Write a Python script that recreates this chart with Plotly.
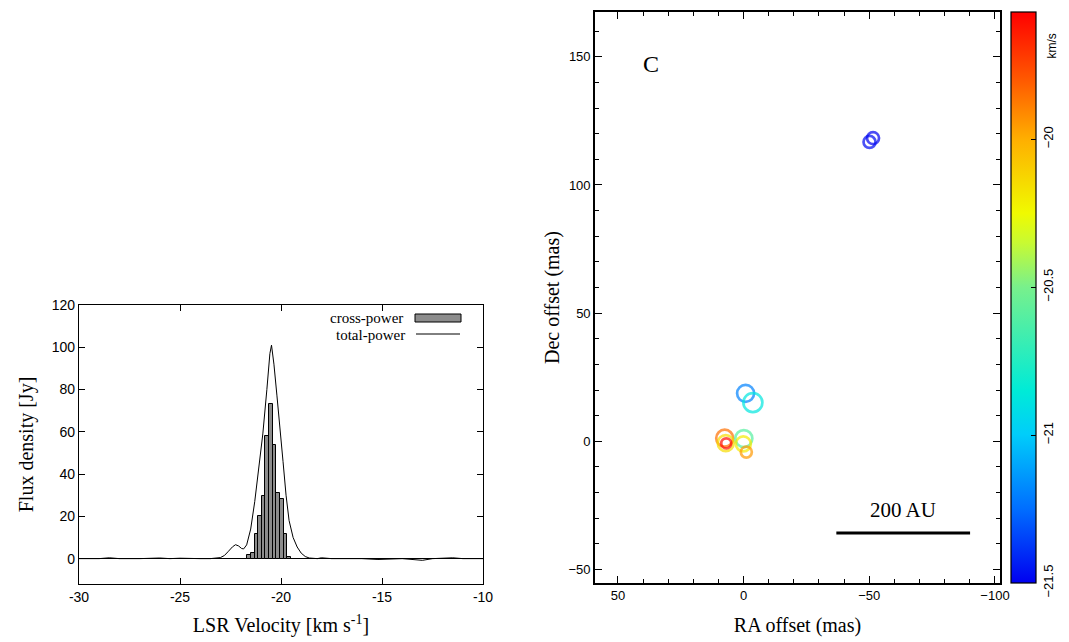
import plotly.graph_objects as go

W, H = 1069, 642

# ---------------- Left panel data: spectrum ----------------
cross_vel = [-21.58, -21.40, -21.22, -21.04, -20.86, -20.68, -20.50, -20.32, -20.14, -19.96, -19.78, -19.60]
cross_flux = [1.7, 2.7, 11.5, 20.2, 29.7, 58.1, 73.0, 54.0, 31.0, 28.3, 11.7, 0.6]

total_vel = [-30, -29, -28.5, -28, -27, -26, -25.5, -25, -24, -23.5, -23, -22.8, -22.6, -22.4,
             -22.25, -22.1, -21.95, -21.85, -21.7, -21.5, -21.3, -21.1, -20.9, -20.7, -20.55,
             -20.47, -20.35, -20.2, -20.05, -19.9, -19.75, -19.6, -19.4, -19.2, -19.0, -18.8,
             -18.6, -18.2, -18, -17.5, -16, -15.2, -14, -13, -12.5, -11.5, -11, -10]
total_flux = [0, 0, 0.4, 0, 0, 0.3, 0, 0.2, 0, 0, 0.5, 1.5, 3.5, 5.6,
              6.6, 6.0, 4.8, 4.6, 6.5, 14, 27, 42, 59, 80, 97,
              101, 92, 77, 63, 46, 30, 18, 10, 5.5, 2.6, 1.0,
              0.3, 0, 0.4, 0, 0, -0.4, 0, -0.8, 0, 0.4, 0, 0]

left_xticks = [-30, -25, -20, -15, -10]
left_xticklabels = ["-30", "-25", "-20", "-15", "-10"]
left_yticks = [0, 20, 40, 60, 80, 100, 120]

# ---------------- Right panel data: maser spots ----------------
spot_ra = [-51.5, -50.1, -0.8, -3.7, 7.5, 7.1, 6.9, -0.1, 0.1, -1.1]
spot_dec = [118.3, 116.8, 18.7, 15.1, 1.2, -0.7, -0.8, 1.05, -1.05, -4.2]
spot_vel = [-21.5, -21.48, -21.2, -20.88, -19.85, -20.15, -19.6, -20.6, -20.2, -19.95]
spot_size = [12, 12, 17, 19, 17, 16, 10, 17, 15, 11]

vel_min, vel_max = -21.5, -19.57
cbar_ticks = [-21.5, -21, -20.5, -20]

scalebar_x = [-36.9, -90.1]
scalebar_y = -35.8
scalebar_label = "200 AU"
panel_label = "C"

colorscale = [
    [0.0, "rgb(0,0,240)"],
    [0.13, "rgb(0,110,255)"],
    [0.26, "rgb(0,205,250)"],
    [0.337, "rgb(0,235,215)"],
    [0.518, "rgb(120,240,140)"],
    [0.596, "rgb(200,250,50)"],
    [0.648, "rgb(240,250,0)"],
    [0.777, "rgb(255,175,0)"],
    [0.88, "rgb(255,90,0)"],
    [1.0, "rgb(255,0,0)"],
]

def px_x(p):
    return p / W

def px_y(p):
    return 1 - p / H

fig = go.Figure()

fig.add_trace(go.Bar(
    x=cross_vel, y=cross_flux, width=0.18,
    marker=dict(color="rgb(140,140,140)", line=dict(color="black", width=1)),
    xaxis="x", yaxis="y", showlegend=False))

fig.add_trace(go.Scatter(
    x=total_vel, y=total_flux, mode="lines",
    line=dict(color="black", width=1),
    xaxis="x", yaxis="y", showlegend=False))

fig.add_trace(go.Scatter(
    x=spot_ra, y=spot_dec, mode="markers",
    marker=dict(symbol="circle-open", size=spot_size, color=spot_vel,
                colorscale=colorscale, cmin=vel_min, cmax=vel_max,
                line=dict(width=2.7),
                colorbar=dict(
                    x=px_x(1010.7), xanchor="left", xref="paper",
                    y=px_y(12), yanchor="top", yref="paper",
                    len=(582.7 - 12) / H, lenmode="fraction",
                    thickness=25, thicknessmode="pixels",
                    outlinewidth=1.2, outlinecolor="black",
                    xpad=0, ypad=0,
                    tickvals=cbar_ticks, ticktext=["\u221221.5", "\u221221", "\u221220.5", "\u221220"],
                    ticks="inside", ticklen=5, tickcolor="black",
                    tickangle=-90,
                    tickfont=dict(family="Liberation Sans", size=13, color="black"),
                )),
    xaxis="x2", yaxis="y2", showlegend=False))

serif = "Liberation Serif"
sans = "Liberation Sans"

fig.update_layout(
    width=W, height=H,
    margin=dict(l=0, r=0, t=0, b=0, pad=0, autoexpand=False),
    paper_bgcolor="white", plot_bgcolor="white",
    bargap=0,
    xaxis=dict(domain=[px_x(79), px_x(483)], range=[-30, -10],
               tickvals=left_xticks, ticktext=left_xticklabels,
               ticks="inside", ticklen=6, tickcolor="black",
               showline=True, linecolor="black", linewidth=1.3, mirror="ticks",
               showgrid=False, zeroline=False, automargin=False,
               tickfont=dict(family=sans, size=14, color="black"),
               title=dict(text="LSR Velocity [km s<sup>-1</sup>]", standoff=14,
                          font=dict(family=serif, size=20, color="black")),
               anchor="y"),
    yaxis=dict(domain=[px_y(584), px_y(305)], range=[-12, 120],
               tickvals=left_yticks,
               ticks="inside", ticklen=6, tickcolor="black",
               showline=True, linecolor="black", linewidth=1.3, mirror="ticks",
               showgrid=False, zeroline=True, zerolinecolor="black", zerolinewidth=1.3,
               automargin=False,
               tickfont=dict(family=sans, size=14, color="black"),
               title=dict(text="Flux density [Jy]", standoff=12,
                          font=dict(family=serif, size=20, color="black")),
               anchor="x"),
    xaxis2=dict(domain=[px_x(595), px_x(1000)], range=[59.1, -102],
                tickvals=[50, 0, -50, -100], ticktext=["50", "0", "\u221250", "\u2212100"],
                ticks="inside", ticklen=7, tickcolor="black", tickwidth=1.2,
                minor=dict(dtick=10, tick0=0, ticks="inside", ticklen=4, tickcolor="black"),
                showline=True, linecolor="black", linewidth=1.6, mirror="ticks",
                showgrid=False, zeroline=False, automargin=False,
                tickfont=dict(family=sans, size=13, color="black"),
                title=dict(text="RA offset (mas)", standoff=16,
                           font=dict(family=serif, size=20, color="black")),
                anchor="y2"),
    yaxis2=dict(domain=[px_y(583), px_y(12)], range=[-55.3, 167.5],
                tickvals=[-50, 0, 50, 100, 150], ticktext=["\u221250", "0", "50", "100", "150"],
                ticks="inside", ticklen=7, tickcolor="black", tickwidth=1.2,
                minor=dict(dtick=10, tick0=0, ticks="inside", ticklen=4, tickcolor="black"),
                showline=True, linecolor="black", linewidth=1.6, mirror="ticks",
                showgrid=False, zeroline=False, automargin=False,
                tickfont=dict(family=sans, size=13, color="black"),
                title=dict(text="Dec offset (mas)", standoff=4,
                           font=dict(family=serif, size=20, color="black")),
                anchor="x2"),
)

# legend of the left panel (text then symbol, as in the original)
fig.add_annotation(xref="paper", yref="paper", x=px_x(405), y=px_y(318),
                   xanchor="right", yanchor="middle", showarrow=False,
                   text="cross-power", font=dict(family=serif, size=15, color="black"))
fig.add_annotation(xref="paper", yref="paper", x=px_x(407), y=px_y(335),
                   xanchor="right", yanchor="middle", showarrow=False,
                   text="total-power", font=dict(family=serif, size=15, color="black"))
fig.add_shape(type="rect", xref="paper", yref="paper",
              x0=px_x(415), x1=px_x(461), y0=px_y(322), y1=px_y(314),
              fillcolor="rgb(140,140,140)", line=dict(color="black", width=1))
fig.add_shape(type="line", xref="paper", yref="paper",
              x0=px_x(416), x1=px_x(460), y0=px_y(334), y1=px_y(334),
              line=dict(color="black", width=1))

# right panel annotations
fig.add_annotation(xref="x2", yref="y2", x=36.9, y=147.3, showarrow=False,
                   text=panel_label, font=dict(family=serif, size=24, color="black"))
fig.add_shape(type="line", xref="x2", yref="y2",
              x0=scalebar_x[0], x1=scalebar_x[1], y0=scalebar_y, y1=scalebar_y,
              line=dict(color="black", width=3))
fig.add_annotation(xref="x2", yref="y2", x=(scalebar_x[0] + scalebar_x[1]) / 2, y=scalebar_y + 9,
                   showarrow=False, text=scalebar_label,
                   font=dict(family=serif, size=21, color="black"))
fig.add_annotation(xref="paper", yref="paper", x=px_x(1060), y=px_y(32),
                   showarrow=False, text="km/s", textangle=-90,
                   font=dict(family=sans, size=12, color="black"))

fig.write_html("out.html", config={"displayModeBar": False},
               post_script="document.body.style.margin='0';document.body.style.padding='0';document.body.style.overflow='hidden';")
